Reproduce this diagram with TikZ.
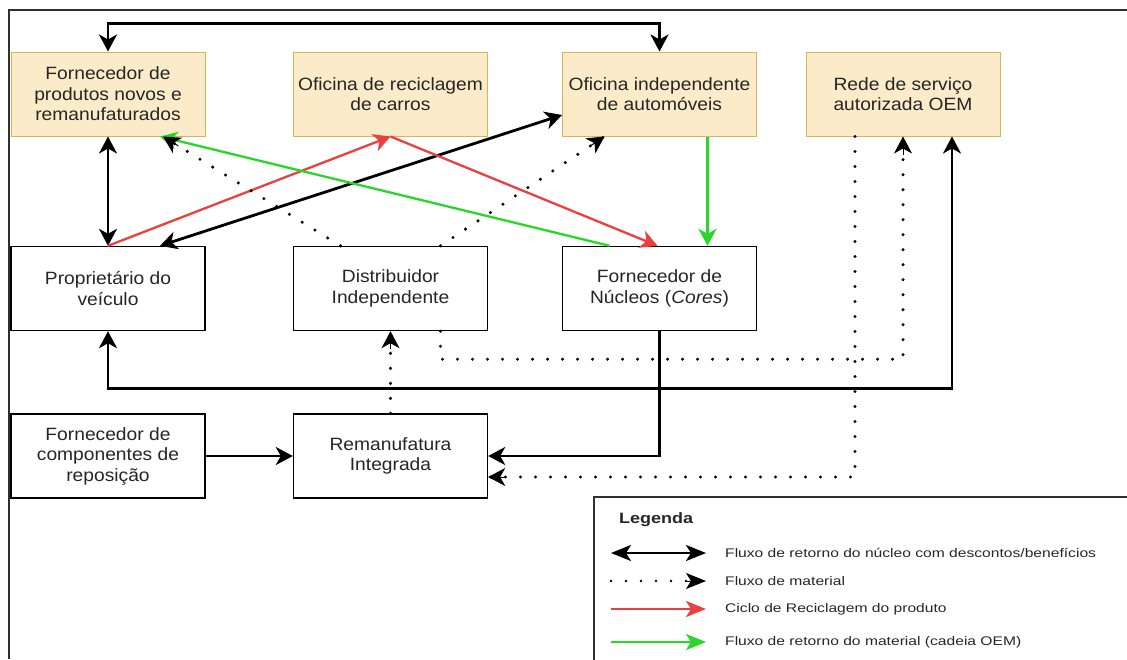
\documentclass[tikz,border=0pt]{standalone}
\usepackage{fontspec}
\setmainfont{Liberation Sans}
\newfontfamily\boxfont[FakeStretch=1.08]{Liberation Sans}
\newfontfamily\legfont[FakeStretch=1.25]{Liberation Sans}
\newfontfamily\legtitle[FakeStretch=1.2]{Liberation Sans Bold}
\usetikzlibrary{arrows.meta,calc}

\definecolor{boxfill}{HTML}{FCEBC8}
\definecolor{boxline}{HTML}{D6B656}
\definecolor{txtgray}{HTML}{262626}
\definecolor{redflow}{RGB}{236,64,64}
\definecolor{greenflow}{RGB}{40,215,40}
\definecolor{framegray}{HTML}{303030}

\tikzset{
  ctip/.tip={Stealth[length=17pt,width=18pt,inset=5pt]},
  ltip/.tip={Stealth[length=20pt,width=16pt,inset=5pt]},
  actor/.style={draw=black, line width=1.4pt, fill=white, minimum width=194pt,
    minimum height=84pt, inner sep=0pt, align=center, text=txtgray,
    font=\boxfont\fontsize{17.8}{20.5}\selectfont},
  shopbox/.style={actor, draw=boxline, line width=1pt, fill=boxfill},
  coreflow/.style={draw=black, line width=2.8pt},
  matflow/.style={draw=black, line width=3.4pt, line cap=round,
    dash pattern=on 0pt off 15pt},
  headonly/.style={draw=black, line width=1pt},
  recycle/.style={draw=redflow, line width=2.3pt},
  oemflow/.style={draw=greenflow, line width=2.3pt},
  legtext/.style={anchor=west, inner sep=0pt, text=txtgray,
    font=\legfont\fontsize{12.5}{14}\selectfont},
}

\begin{document}
\begin{tikzpicture}[x=1pt, y=-1pt]
\useasboundingbox (0,0) rectangle (1127,659);

% outer frame (top and left edges)
\draw[framegray, line width=2pt] (1127,10) -- (9,10) -- (9,659);

% top row: workshops and suppliers
\node[shopbox] (b1) at (108,94) {Fornecedor de\\produtos novos e\\remanufaturados};
\node[shopbox] (b2) at (390.5,94) {Oficina de reciclagem\\de carros};
\node[shopbox] (b3) at (659.5,94) {Oficina independente\\de automóveis};
\node[shopbox] (b4) at (903,94) {Rede de serviço\\autorizada OEM};

% middle row
\node[actor] (m1) at (108,288.5) {Proprietário do\\veículo};
\node[actor] (m2) at (390.5,288.5) {Distribuidor\\Independente};
\node[actor] (m3) at (659.5,288.5) {Fornecedor de\\Núcleos (\textit{Cores})};

% bottom row
\node[actor] (l1) at (108,456) {Fornecedor de\\componentes de\\reposição};
\node[actor] (l2) at (390.5,456) {Remanufatura\\Integrada};

% core return flows
\draw[coreflow, ctip-ctip] (b1.north) -- ++(0,-28) -| (b3.north);
\draw[coreflow, ctip-ctip] (b1.south) -- (m1.north);
\draw[coreflow, ctip-ctip] ($(m1.north)+(52,0)$) -- ($(b3.west)+(0,21)$);
\draw[coreflow, ctip-ctip] (m1.south) -- ++(0,57) -| ($(b4.south)+(49,0)$);
\draw[coreflow, -ctip] (m3.south) |- (l2.east);
\draw[coreflow, -ctip] (l1.east) -- (l2.west);

% recycling cycle
\draw[recycle, -ctip] (m1.north) -- (b2.south);
\draw[recycle, -ctip] (b2.south) -- ($(m3.north)+(-2,0)$);

% OEM material return
\draw[oemflow, -ctip] ($(b3.south)+(48,0)$) -- ($(m3.north)+(48,0)$);
\draw[oemflow, -ctip] ($(m3.north)+(-50,0)$) -- ($(b1.south)+(52,0)$);

% material flows (dotted lines, heads drawn separately)
\draw[matflow] ($(m2.north)+(-50,0)$) -- ($(b1.south)+(55,0)$);
\draw[headonly, -ctip] ($($(b1.south)+(55,0)$)!18pt!($(m2.north)+(-50,0)$)$) -- ($(b1.south)+(55,0)$);
\draw[matflow] ($(m2.north)+(50,0)$) -- ($(b3.south)+(-55,0)$);
\draw[headonly, -ctip] ($($(b3.south)+(-55,0)$)!18pt!($(m2.north)+(50,0)$)$) -- ($(b3.south)+(-55,0)$);
\draw[matflow] ($(m2.south)+(50,0)$) -- ++(0,28) -| (b4.south);
\draw[headonly, -ctip] ($(b4.south)+(0,18)$) -- (b4.south);
\draw[matflow] ($(b4.south)+(-48,0)$) |- ($(l2.east)+(0,21)$);
\draw[headonly, -ctip] ($(l2.east)+(18,21)$) -- ($(l2.east)+(0,21)$);
\draw[matflow] (l2.north) -- (m2.south);
\draw[headonly, -ctip] ($(m2.south)+(0,18)$) -- (m2.south);

% legend
\draw[framegray, line width=1.4pt] (1130,497) -- (594,497) -- (594,662);
\node[anchor=west, inner sep=0pt, text=txtgray,
  font=\legtitle\fontsize{15}{17}\selectfont] (lgtitle) at (619,520) {Legenda};

\coordinate (la1) at (611,553); \coordinate (lb1) at (706,553);
\coordinate (la2) at (611,581); \coordinate (lb2) at (706,581);
\coordinate (la3) at (611,609); \coordinate (lb3) at (706,609);
\coordinate (la4) at (611,642); \coordinate (lb4) at (706,642);

\draw[coreflow, line width=2.6pt, ltip-ltip] (la1) -- (lb1);
\draw[matflow, line width=2.8pt] (la2) -- ($(lb2)+(-20,0)$);
\draw[headonly, -ltip] ($(lb2)+(-21,0)$) -- (lb2);
\draw[recycle, line width=2.6pt, -ltip] (la3) -- (lb3);
\draw[oemflow, line width=2.6pt, -ltip] (la4) -- (lb4);

\node[legtext] (lt1) at (725,553) {Fluxo de retorno do núcleo com descontos/benefícios};
\node[legtext] (lt2) at (725,581) {Fluxo de material};
\node[legtext] (lt3) at (725,609) {Ciclo de Reciclagem do produto};
\node[legtext] (lt4) at (725,642) {Fluxo de retorno do material (cadeia OEM)};
\end{tikzpicture}
\end{document}
